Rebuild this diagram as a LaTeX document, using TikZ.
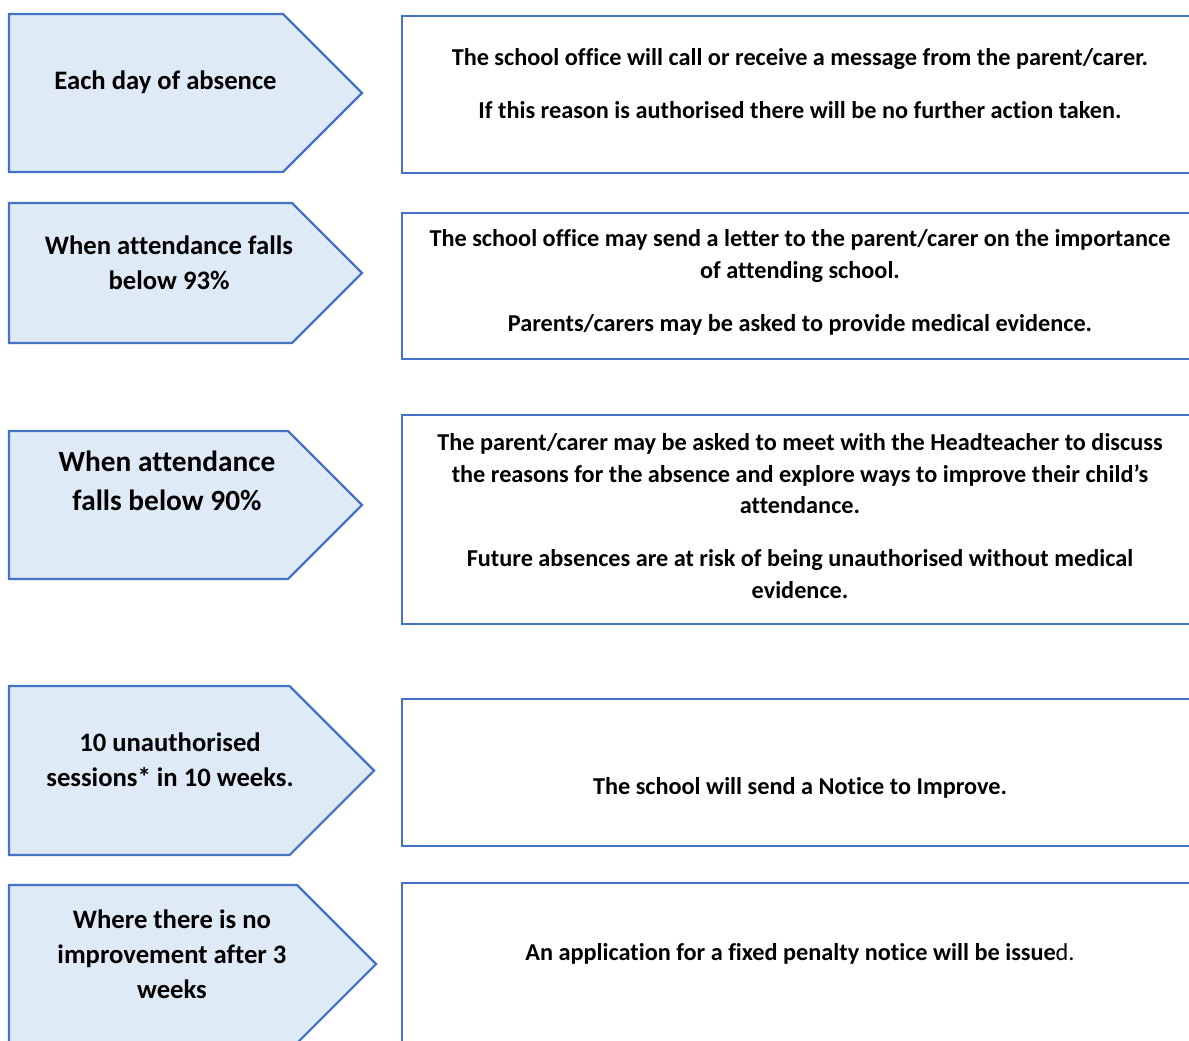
\documentclass[tikz,border=0pt]{standalone}
\usepackage{fontspec}
\setmainfont[Ligatures=NoCommon]{Carlito}
\usetikzlibrary{positioning}
\definecolor{stageline}{HTML}{4472C4}
\definecolor{stagefill}{HTML}{DEEBF7}

\begin{document}
\begin{tikzpicture}[x=0.75pt, y=-0.75pt, line width=1.6pt, line join=miter,
  stagebox/.style={draw=stageline, fill=stagefill},
  actionbox/.style={draw=stageline},
  stagetext/.style={align=center, font=\bfseries\fontsize{20}{26.25}\selectfont},
  bigtext/.style={align=center, font=\bfseries\fontsize{22}{29.25}\selectfont},
  actiontext/.style={align=center, font=\bfseries\fontsize{18.2}{23.6}\selectfont}]
\useasboundingbox (0,0) rectangle (1189,1041);
\fill[white] (0,0) rectangle (1189,1041);
\clip (0,0) rectangle (1189,1041);

% Stage shapes
\draw[stagebox] (9,14) -- (283,14) -- (362,93) -- (283,172) -- (9,172) -- cycle;
\draw[stagebox] (9,203) -- (292,203) -- (362,273) -- (292,343) -- (9,343) -- cycle;
\draw[stagebox] (9,431) -- (288,431) -- (362,505) -- (288,579) -- (9,579) -- cycle;
\draw[stagebox] (9,686) -- (289.5,686) -- (374,770.5) -- (289.5,855) -- (9,855) -- cycle;
\draw[stagebox] (9,885) -- (297,885) -- (376,964) -- (297,1043) -- (9,1043) -- cycle;

% Action boxes
\draw[actionbox] (402,16) rectangle (1200,173);
\draw[actionbox] (402,213) rectangle (1200,359);
\draw[actionbox] (402,415) rectangle (1200,624);
\draw[actionbox] (402,699) rectangle (1200,846);
\draw[actionbox] (402,883) rectangle (1200,1060);

% Stage labels
\node[stagetext] (daily) at (165.5,82) {Each day of absence};
\node[stagetext] (below93) at (169,262.5) {When attendance falls\\below 93\%};
\node[bigtext] (below90) at (167,480.5) {When attendance\\falls below 90\%};
\node[stagetext] (sessions) at (170,759.5) {10 unauthorised\\sessions* in 10 weeks.};
\node[stagetext] (noimprove) at (172,954) {Where there is no\\improvement after 3\\weeks};

% Action texts
\node[actiontext] (call) at (800,83.5) {The school office will call or receive a message from the parent/carer.\\[16pt]If this reason is authorised there will be no further action taken.};
\node[actiontext] (letter) at (800,282.5) {The school office may send a letter to the parent/carer on the importance\\of attending school.\\[16pt]Parents/carers may be asked to provide medical evidence.};
\node[actiontext] (meet) at (800,516) {The parent/carer may be asked to meet with the Headteacher to discuss\\the reasons for the absence and explore ways to improve their child’s\\attendance.\\[16pt]Future absences are at risk of being unauthorised without medical\\evidence.};
\node[actiontext] (notice) at (800,788) {The school will send a Notice to Improve.};
\node[actiontext] (penalty) at (800,954) {An application for a fixed penalty notice will be issue\textmd{d.}};
\end{tikzpicture}
\end{document}
